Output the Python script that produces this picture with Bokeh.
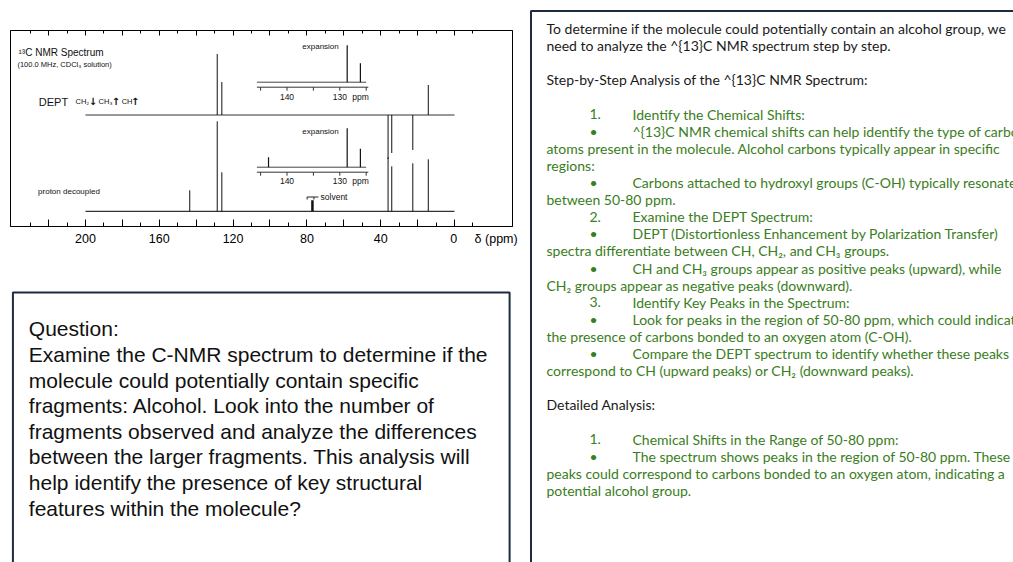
from bokeh.plotting import figure
from bokeh.layouts import row, column
from bokeh.models import Range1d, FixedTicker, LinearAxis, AllLabels
from bokeh.core.properties import value
from bokeh.embed import file_html
from bokeh.resources import INLINE

# ---------------- data ----------------
peak_ppm = [143.5, 128.6, 126.1, 36.0, 34.0, 22.6, 14.2]
decoupled_height = [21, 90, 39, 54, 45, 48, 52]
dept_height = [0, 61, 33, -44, -38, -35, 30]
solvent_ppm = [77.0]
solvent_height = [11]
baseline_ppm = [200, 0]

inset_peak_ppm = [143.5, 128.6, 126.1]
inset_dept_height = [0, 37, 19]
inset_decoupled_height = [10, 39, 18.5]
inset_span_ppm = [145.7, 125.0]
inset_ticks = [145, 140, 135, 130, 125]
inset_tick_labels = ["", "140", "", "130", ""]

major_ticks = [220, 200, 180, 160, 140, 120, 100, 80, 60, 40, 20, 0]
minor_ticks = [230, 210, 190, 170, 150, 130, 110, 90, 70, 50, 30, 10, -10]
tick_labels = ["", "200", "", "160", "", "120", "", "80", "", "40", "", "0"]
axis_unit = "\u03b4 (ppm)"

dept_groups = ["CH\u2082", "CH\u2083", "CH"]
dept_arrows = ["\u2193", "\u2191", "\u2191"]

question_lines = [
    "Question:",
    "Examine the C-NMR spectrum to determine if the",
    "molecule could potentially contain specific",
    "fragments: Alcohol. Look into the number of",
    "fragments observed and analyze the differences",
    "between the larger fragments. This analysis will",
    "help identify the presence of key structural",
    "features within the molecule?",
]

panel_markers = ["", "", "", "", "", "1.", "•", "", "", "•", "", "2.", "•", "", "•", "",
                 "3.", "•", "", "•", "", "", "", "", "1.", "•", "", ""]
panel_lines = [
    "To determine if the molecule could potentially contain an alcohol group, we",
    "need to analyze the ^{13}C NMR spectrum step by step.",
    "",
    "Step-by-Step Analysis of the ^{13}C NMR Spectrum:",
    "",
    "Identify the Chemical Shifts:",
    "^{13}C NMR chemical shifts can help identify the type of carbon",
    "atoms present in the molecule. Alcohol carbons typically appear in specific",
    "regions:",
    "Carbons attached to hydroxyl groups (C-OH) typically resonate",
    "between 50-80 ppm.",
    "Examine the DEPT Spectrum:",
    "DEPT (Distortionless Enhancement by Polarization Transfer)",
    "spectra differentiate between CH, CH\u2082, and CH\u2083 groups.",
    "CH and CH\u2083 groups appear as positive peaks (upward), while",
    "CH\u2082 groups appear as negative peaks (downward).",
    "Identify Key Peaks in the Spectrum:",
    "Look for peaks in the region of 50-80 ppm, which could indicate",
    "the presence of carbons bonded to an oxygen atom (C-OH).",
    "Compare the DEPT spectrum to identify whether these peaks",
    "correspond to CH (upward peaks) or CH\u2082 (downward peaks).",
    "",
    "Detailed Analysis:",
    "",
    "Chemical Shifts in the Range of 50-80 ppm:",
    "The spectrum shows peaks in the region of 50-80 ppm. These",
    "peaks could correspond to carbons bonded to an oxygen atom, indicating a",
    "potential alcohol group.",
]
panel_dark = [0, 1, 3, 22]

# ---------------- styles / layout constants ----------------
SANS = "Liberation Sans"
PANEL_FONT = "Lato"
PANEL_SIZE = "14px"
INK = "#1a1a1a"
GREEN = "#3A7D22"
BORDER = "#1c2c3e"
DEPT_BASE = 111.5
DEC_BASE = 15.2
TOP_INSET = (144.3, 139.3, 130.0)   # baseline, axis, labels
BOT_INSET = (59.3, 54.3, 45.3)
NB = "\u00a0"

# ---------------- spectrum figure ----------------
spec = figure(width=520, height=284, x_range=Range1d(240.65, -31.44), y_range=Range1d(0, 196),
              output_backend="svg", toolbar_location=None,
              min_border_left=10, min_border_right=8, min_border_top=30, min_border_bottom=58,
              x_axis_location=None, y_axis_location=None)
spec.grid.visible = False
spec.outline_line_color = "black"
spec.outline_line_width = 1
spec.background_fill_color = "white"
spec.border_fill_color = "white"
spec.extra_x_ranges = {"inset": Range1d(192.37, 97.29)}

overrides = {t: l for t, l in zip(major_ticks, tick_labels)}
# the unit text sits to the right of the "0" label (padded so that "0" stays centred on its tick)
overrides[0] = NB * 17 + tick_labels[-1] + NB * 5 + axis_unit
xb = LinearAxis(ticker=FixedTicker(ticks=major_ticks, minor_ticks=minor_ticks),
                major_label_overrides=overrides, major_label_policy=AllLabels(),
                major_tick_in=7, major_tick_out=0, minor_tick_in=4, minor_tick_out=0,
                major_label_text_font=SANS, major_label_text_font_size="12.5px",
                major_label_text_color="black", major_label_standoff=5,
                axis_line_color="black", major_tick_line_color="black",
                minor_tick_line_color="black")
spec.add_layout(xb, "below")
xt = LinearAxis(ticker=FixedTicker(ticks=major_ticks, minor_ticks=minor_ticks),
                major_label_overrides={t: "" for t in major_ticks},
                major_tick_in=5, major_tick_out=0, minor_tick_in=3, minor_tick_out=0,
                major_label_text_font_size="1px", major_label_standoff=0,
                axis_line_color="black", major_tick_line_color="black",
                minor_tick_line_color="black")
spec.add_layout(xt, "above")

# baselines
for base in (DEPT_BASE, DEC_BASE):
    spec.line(x=baseline_ppm, y=[base, base], line_color="#333333", line_width=1.2)

# proton decoupled peaks
spec.segment(x0=peak_ppm, y0=[DEC_BASE] * len(peak_ppm), x1=peak_ppm,
             y1=[DEC_BASE + h for h in decoupled_height], line_color="#111111", line_width=1)
spec.segment(x0=solvent_ppm, y0=[DEC_BASE], x1=solvent_ppm,
             y1=[DEC_BASE + h for h in solvent_height], line_color="#111111", line_width=2.5)
# DEPT peaks
dp = [(p, h) for p, h in zip(peak_ppm, dept_height) if h != 0]
spec.segment(x0=[p for p, _ in dp], y0=[DEPT_BASE] * len(dp), x1=[p for p, _ in dp],
             y1=[DEPT_BASE + h for _, h in dp], line_color="#111111", line_width=1)

# solvent bracket
spec.multi_line(xs=[[79.9, 79.9, 76.2, 76.2], [76.2, 73.8]],
                ys=[[27.0, 29.5, 29.5, 27.0], [29.5, 29.5]], line_color="#222222", line_width=1)

# insets
for heights, (base, axy, laby) in ((inset_dept_height, TOP_INSET), (inset_decoupled_height, BOT_INSET)):
    spec.line(x=inset_span_ppm, y=[base, base], line_color="#444444", line_width=1,
              x_range_name="inset")
    ip = [(p, h) for p, h in zip(inset_peak_ppm, heights) if h != 0]
    spec.segment(x0=[p for p, _ in ip], y0=[base] * len(ip), x1=[p for p, _ in ip],
                 y1=[base + h for _, h in ip], line_color="#111111", line_width=1.2,
                 x_range_name="inset")
    spec.line(x=[inset_span_ppm[0], inset_span_ppm[1] - 0.4], y=[axy, axy], line_color="#333333",
              line_width=1, x_range_name="inset")
    spec.segment(x0=inset_ticks, y0=[axy] * len(inset_ticks), x1=inset_ticks,
                 y1=[axy - 3.5] * len(inset_ticks), line_color="#333333", line_width=1,
                 x_range_name="inset")
    spec.text(x=inset_ticks, y=[laby] * len(inset_ticks), text=inset_tick_labels,
              text_font=value(SANS), text_font_size="8.5px", text_align="center",
              text_baseline="middle", text_color="#111111", x_range_name="inset")
    spec.text(x=[127.65], y=[laby], text=["ppm"], text_font=value(SANS), text_font_size="8.5px",
              text_align="left", text_baseline="middle", text_color="#111111", x_range_name="inset")
    spec.text(x=[133.65], y=[base + 35.7], text=["expansion"], text_font=value(SANS),
              text_font_size="8px", text_align="center", text_baseline="middle",
              text_color="#111111", x_range_name="inset")

# spectrum texts
spec.text(x=[236.3], y=[174.3], text=["\u00b9\u00b3C  NMR Spectrum"], text_font=value(SANS),
          text_font_size="10px", text_baseline="middle", text_color="#111111")
spec.text(x=[236.9], y=[161.7], text=["(100.0 MHz, CDCl\u2083 solution)"], text_font=value(SANS),
          text_font_size="7.5px", text_baseline="middle", text_color="#111111")
spec.text(x=[225.3], y=[124.3], text=["DEPT"], text_font=value(SANS),
          text_font_size="11px", text_baseline="middle", text_color="#111111")
spec.text(x=[205.4, 192.9, 180.4], y=[124.8] * 3, text=dept_groups, text_font=value(SANS),
          text_font_size="7.5px", text_baseline="middle", text_color="#111111")
spec.text(x=[198.3, 185.8, 175.4], y=[125.5] * 3, text=dept_arrows, text_font=value("DejaVu Sans"),
          text_font_size="10px", text_font_style="bold", text_baseline="middle",
          text_color="#111111")
spec.text(x=[225.7], y=[35.0], text=["proton decoupled"], text_font=value(SANS),
          text_font_size="8px", text_baseline="middle", text_color="#111111")
spec.text(x=[72.6], y=[30.0], text=["solvent"], text_font=value(SANS),
          text_font_size="8.5px", text_baseline="middle", text_color="#111111")

# ---------------- question figure ----------------
q = figure(width=520, height=278, x_range=Range1d(0, 520), y_range=Range1d(278, 0),
           output_backend="svg", toolbar_location=None, min_border=0,
           x_axis_location=None, y_axis_location=None)
q.grid.visible = False
q.outline_line_color = None
q.quad(left=[2.5], right=[517], top=[8], bottom=[320], fill_color=None,
       line_color=BORDER, line_width=2)
q.text(x=[19] * len(question_lines), y=[44.3 + 25.63 * i for i in range(len(question_lines))],
       text=question_lines, text_font=value(SANS), text_font_size="21px",
       text_baseline="middle", text_color="#111111")

# ---------------- right text panel ----------------
r = figure(width=493, height=562, x_range=Range1d(0, 493), y_range=Range1d(562, 0),
           output_backend="svg", toolbar_location=None, min_border=0,
           x_axis_location=None, y_axis_location=None)
r.grid.visible = False
r.outline_line_color = None
r.quad(left=[10.5], right=[700], top=[10.5], bottom=[700], fill_color=None,
       line_color=BORDER, line_width=2)
ys = [28 + 17.11 * i for i in range(len(panel_lines))]
colors = [INK if i in panel_dark else GREEN for i in range(len(panel_lines))]
xs = [112 if panel_markers[i] else 26 for i in range(len(panel_lines))]
r.text(x=xs, y=ys, text=panel_lines, text_color=colors, text_font=value(PANEL_FONT),
       text_font_size=PANEL_SIZE, text_baseline="middle")
mi = [i for i in range(len(panel_markers)) if panel_markers[i]]
r.text(x=[69] * len(mi), y=[ys[i] for i in mi], text=[panel_markers[i] for i in mi],
       text_color=GREEN, text_font=value(PANEL_FONT), text_font_size=PANEL_SIZE,
       text_baseline="middle")

layout = row(column(spec, q, spacing=0), r, spacing=0)
open("out.html", "w").write(file_html(layout, INLINE))
